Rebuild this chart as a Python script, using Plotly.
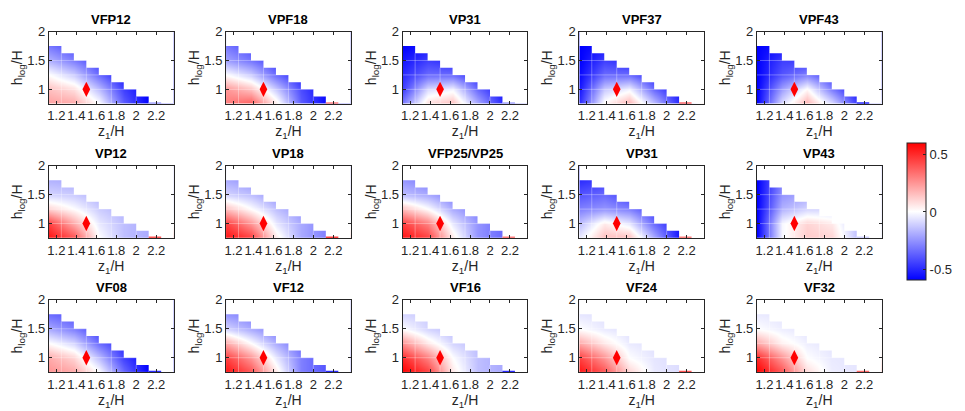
import plotly.graph_objects as go

# ---------------- data ----------------
X_NODES = [1.125, 1.375, 1.625, 1.875, 2.125, 2.375]   # z1/H
Y_NODES = [0.75, 1.0, 1.25, 1.5, 1.75, 2.0]             # hlog/H

TITLES = ["VFP12", "VPF18", "VP31", "VPF37", "VPF43",
          "VP12", "VP18", "VFP25/VP25", "VP31", "VP43",
          "VF08", "VF12", "VF16", "VF24", "VF32"]

# rows ordered by Y_NODES (bottom -> top); values along X_NODES
Z_VFP12 = [[0.22, 0.20, 0.00, -0.38, -0.60, -0.50],
           [0.15, 0.08, -0.15, -0.45, -0.60],
           [0.00, -0.12, -0.35, -0.55],
           [-0.18, -0.30, -0.45],
           [-0.32, -0.42],
           [-0.42]]
Z_VPF18 = [[0.30, 0.38, 0.05, -0.38, -0.58, -0.50],
           [0.25, 0.15, -0.12, -0.42, -0.58],
           [0.00, -0.12, -0.35, -0.52],
           [-0.22, -0.32, -0.45],
           [-0.32, -0.42],
           [-0.42]]
Z_VP31A = [[-0.30, 0.08, 0.15, -0.20, -0.50, -0.30],
           [-0.45, -0.08, -0.02, -0.35, -0.55],
           [-0.50, -0.35, -0.35, -0.50],
           [-0.55, -0.45, -0.50],
           [-0.60, -0.55],
           [-0.60]]
Z_VPF37 = [[-0.50, 0.02, 0.18, -0.15, -0.50, 0.20],
           [-0.55, -0.12, -0.02, -0.35, -0.55],
           [-0.58, -0.35, -0.35, -0.50],
           [-0.60, -0.45, -0.50],
           [-0.60, -0.55],
           [-0.60]]
Z_VPF43 = [[-0.60, -0.08, 0.18, -0.08, -0.45, -0.30],
           [-0.60, -0.22, 0.02, -0.30, -0.55],
           [-0.60, -0.40, -0.30, -0.45],
           [-0.60, -0.45, -0.45],
           [-0.60, -0.55],
           [-0.60]]
Z_VP12 = [[0.55, 0.40, 0.00, -0.15, -0.20, 0.30],
          [0.45, 0.20, -0.05, -0.15, -0.20],
          [0.10, 0.00, -0.12, -0.18],
          [-0.10, -0.12, -0.18],
          [-0.18, -0.20],
          [-0.20]]
Z_VP18 = [[0.55, 0.45, 0.05, -0.20, -0.30, 0.30],
          [0.45, 0.25, -0.05, -0.20, -0.30],
          [0.15, 0.00, -0.15, -0.25],
          [-0.10, -0.15, -0.25],
          [-0.20, -0.25],
          [-0.25]]
Z_VFP25 = [[0.55, 0.45, 0.05, -0.25, -0.35, 0.30],
           [0.45, 0.30, -0.05, -0.25, -0.35],
           [0.15, 0.00, -0.20, -0.30],
           [-0.15, -0.20, -0.30],
           [-0.25, -0.30],
           [-0.30]]
Z_VP31B = [[-0.05, 0.15, 0.15, -0.20, -0.55, 0.30],
           [-0.15, 0.05, -0.05, -0.35, -0.55],
           [-0.30, -0.25, -0.30, -0.45],
           [-0.40, -0.35, -0.45],
           [-0.50, -0.45],
           [-0.50]]
Z_VP43 = [[-0.60, -0.02, 0.12, 0.10, -0.15, -0.10],
          [-0.60, -0.02, 0.10, 0.05, -0.15],
          [-0.60, -0.18, -0.10, -0.10],
          [-0.60, -0.25, -0.20],
          [-0.60, -0.30],
          [-0.60]]
Z_VF08 = [[0.25, 0.20, 0.00, -0.35, -0.60, -0.50],
          [0.20, 0.10, -0.15, -0.45, -0.60],
          [0.00, -0.10, -0.35, -0.50],
          [-0.20, -0.30, -0.45],
          [-0.35, -0.40],
          [-0.40]]
Z_VF12 = [[0.55, 0.40, 0.05, -0.30, -0.40, -0.50],
          [0.45, 0.25, -0.05, -0.30, -0.40],
          [0.20, 0.00, -0.20, -0.35],
          [-0.10, -0.20, -0.30],
          [-0.25, -0.30],
          [-0.30]]
Z_VF16 = [[0.60, 0.45, 0.05, -0.15, -0.20, -0.50],
          [0.50, 0.30, 0.00, -0.15, -0.20],
          [0.25, 0.05, -0.10, -0.15],
          [0.00, -0.10, -0.15],
          [-0.10, -0.12],
          [-0.12]]
Z_VF24 = [[0.55, 0.40, 0.10, -0.05, -0.08, 0.40],
          [0.45, 0.25, 0.00, -0.06, -0.08],
          [0.20, 0.05, -0.05, -0.07],
          [0.00, -0.05, -0.07],
          [-0.06, -0.07],
          [-0.07]]
Z_VF32 = [[0.60, 0.40, 0.08, -0.04, -0.06, 0.35],
          [0.50, 0.25, 0.00, -0.05, -0.06],
          [0.20, 0.03, -0.04, -0.06],
          [0.00, -0.04, -0.06],
          [-0.05, -0.06],
          [-0.06]]

PANELS = [Z_VFP12, Z_VPF18, Z_VP31A, Z_VPF37, Z_VPF43,
          Z_VP12, Z_VP18, Z_VFP25, Z_VP31B, Z_VP43,
          Z_VF08, Z_VF12, Z_VF16, Z_VF24, Z_VF32]

# thin edge strip at z1/H = 2.125..2.25, hlog/H = 0.75
SLIVER = [-0.20, 0.30, -0.20, 0.35, -0.50,
          0.40, 0.45, 0.30, 0.30, -0.10,
          -0.50, -0.50, -0.50, 0.40, 0.35]

MARK_X = [1.5]
MARK_Y = [1.0]

XTICKS = [1.2, 1.4, 1.6, 1.8, 2.0, 2.2]
XTICKTEXT = ["1.2", "1.4", "1.6", "1.8", "2", "2.2"]
YTICKS = [1.0, 1.5, 2.0]
YTICKTEXT = ["1", "1.5", "2"]
CB_TICKS = [-0.5, 0, 0.5]
CB_TEXT = ["-0.5", "0", "0.5"]
CMIN, CMAX = -0.6, 0.6

# ---------------- layout helpers ----------------
W, H = 965, 411
FONT = "Liberation Sans, Arial, Helvetica, sans-serif"
AX_COL = "#262626"
COL_LEFT = [47, 224.5, 401.5, 578.5, 756.5]
ROW_TOP = [25, 161.5, 298]
PW, PH = 125, 73.5
STEP = 0.125


def val_color(v):
    t = max(-1.0, min(1.0, v / CMAX))
    if t >= 0:
        g = int(round(255 * (1 - t)))
        return f"rgb(255,{g},{g})"
    g = int(round(255 * (1 + t)))
    return f"rgb({g},{g},255)"


# staircase mask outline (upper-right region with no data)
mask_x = [X_NODES[0]]
mask_y = [2.2]
for k in range(9):
    xl = X_NODES[0] + STEP * k
    top = 1.75 - STEP * k
    mask_x += [xl, xl + STEP]
    mask_y += [top, top]
mask_x += [2.6, 2.6, X_NODES[0]]
mask_y += [0.75, 2.2, 2.2]

# faint mesh lines inside the data region
mesh_x, mesh_y = [], []
for xv in [1.25, 1.5, 1.75, 2.0]:
    k = int(round((xv - X_NODES[0]) / STEP))
    top = 1.75 - STEP * k
    mesh_x += [xv, xv, None]
    mesh_y += [0.75, top, None]
for yv in [1.0, 1.25, 1.5]:
    k = int((1.75 - yv) / STEP + 1e-9)
    right = X_NODES[0] + STEP * (k + 1)
    mesh_x += [X_NODES[0], right, None]
    mesh_y += [yv, yv, None]

fig = go.Figure()
annotations = []
layout_axes = {}

for i, (title, zrows) in enumerate(zip(TITLES, PANELS)):
    r, c = divmod(i, 5)
    n = i + 1
    sfx = "" if n == 1 else str(n)
    xref, yref = "x" + sfx, "y" + sfx
    z = [row + [None] * (len(X_NODES) - len(row)) for row in zrows]

    fig.add_trace(go.Heatmap(x=X_NODES, y=Y_NODES, z=z, zsmooth="best",
                             connectgaps=True, coloraxis="coloraxis",
                             hoverinfo="skip", xaxis=xref, yaxis=yref))
    fig.add_trace(go.Scatter(x=mesh_x, y=mesh_y, mode="lines",
                             line=dict(color="rgba(255,255,255,0.4)", width=0.8),
                             hoverinfo="skip", showlegend=False,
                             xaxis=xref, yaxis=yref))
    fig.add_trace(go.Scatter(x=mask_x, y=mask_y, mode="lines", fill="toself",
                             fillcolor="white", line=dict(width=0, color="white"),
                             hoverinfo="skip", showlegend=False,
                             xaxis=xref, yaxis=yref))
    fig.add_trace(go.Scatter(x=[2.125, 2.25], y=[0.75, 0.75], mode="lines",
                             line=dict(color=val_color(SLIVER[i]), width=3),
                             hoverinfo="skip", showlegend=False,
                             xaxis=xref, yaxis=yref))
    fig.add_trace(go.Scatter(x=MARK_X, y=MARK_Y, mode="markers",
                             marker=dict(symbol="diamond-tall", size=11, color="red",
                                         line=dict(width=0)),
                             hoverinfo="skip", showlegend=False,
                             xaxis=xref, yaxis=yref))

    left = COL_LEFT[c]
    top = ROW_TOP[r]
    common = dict(showline=True, linecolor=AX_COL, linewidth=1, mirror="ticks",
                  ticks="inside", ticklen=3, tickwidth=0.8, tickcolor=AX_COL,
                  showgrid=False, zeroline=False, tickangle=0,
                  tickfont=dict(family=FONT, size=13, color=AX_COL))
    layout_axes["xaxis" + sfx] = dict(
        domain=[left / W, (left + PW) / W], anchor=yref,
        range=[1.125, 2.375], tickvals=XTICKS, ticktext=XTICKTEXT,
        title=dict(text="z<sub>1</sub>/H", standoff=1,
                   font=dict(family=FONT, size=14, color=AX_COL)),
        **common)
    layout_axes["yaxis" + sfx] = dict(
        domain=[1 - (top + PH) / H, 1 - top / H], anchor=xref,
        range=[0.75, 2.0], tickvals=YTICKS, ticktext=YTICKTEXT,
        title=dict(text="h<sub>log</sub>/H", standoff=1,
                   font=dict(family=FONT, size=14, color=AX_COL)),
        **common)
    annotations.append(dict(text=f"<b>{title}</b>", xref="paper", yref="paper",
                            x=(left + PW / 2) / W, y=1 - (top - 3) / H,
                            xanchor="center", yanchor="bottom", showarrow=False,
                            font=dict(family=FONT, size=13, color="black")))

fig.update_layout(
    width=W, height=H, margin=dict(l=0, r=0, t=0, b=0),
    paper_bgcolor="white", plot_bgcolor="white",
    showlegend=False, annotations=annotations,
    coloraxis=dict(
        colorscale=[[0, "rgb(0,0,255)"], [0.5, "rgb(255,255,255)"], [1, "rgb(255,0,0)"]],
        cmin=CMIN, cmax=CMAX,
        colorbar=dict(x=907 / W, xanchor="left", y=1 - 208.5 / H, yanchor="middle",
                      len=139 / H, lenmode="fraction", thickness=19,
                      thicknessmode="pixels", xpad=0, ypad=0,
                      outlinewidth=1, outlinecolor=AX_COL,
                      ticks="inside", ticklen=3, tickcolor=AX_COL,
                      tickvals=CB_TICKS, ticktext=CB_TEXT,
                      tickfont=dict(family=FONT, size=13, color=AX_COL))),
    **layout_axes)

fig.write_html("out.html")
